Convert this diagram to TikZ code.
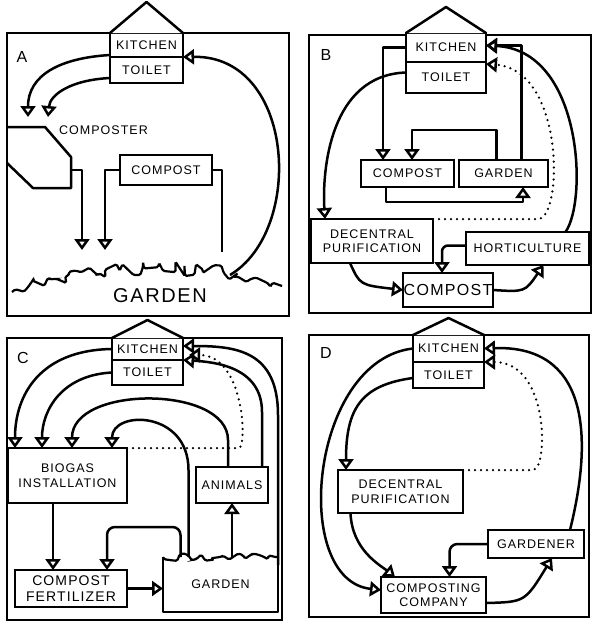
\documentclass[tikz,border=0pt]{standalone}
\usepackage{fontspec}
\setmainfont{Liberation Sans}[LetterSpace=8]
\usepackage{tikz}
\usetikzlibrary{arrows.meta, positioning, calc, decorations.pathmorphing}
\tikzstyle{room} = [rectangle, draw=black, line width=2.5pt, fill=white, inner sep=0pt, outer sep=0pt, align=center, font=\fontsize{12.5}{14.5}\selectfont]
\tikzstyle{tag} = [inner sep=0pt, font=\fontsize{16}{18}\selectfont]
\tikzstyle{arrow} = [line width=2.5pt, line join=round, -{Triangle[open, length=11pt, width=15pt]}]
\tikzstyle{dotarrow} = [arrow, dash pattern=on 0pt off 6pt, line cap=round]
\tikzstyle{wire} = [line width=2.5pt, line join=round]
\tikzstyle{panel} = [line width=2.5pt]
\tikzstyle{roof} = [line width=2.5pt, fill=white, line join=round]
\tikzstyle{grass} = [line width=2.2pt, decorate, decoration={random steps, segment length=5pt, amplitude=7pt}, rounded corners=1.5pt]

\begin{document}
\begin{tikzpicture}[x=1pt, y=-1pt]
\useasboundingbox[fill=white] (0,0) rectangle (596,630);
\pgfmathsetseed{7}

% A
\draw[panel] (7,33) rectangle (289,316);
\node (labA) [tag] at (22,57) {A};
\node (kitA) [room, minimum width=73pt, minimum height=24pt] at (146.5,45) {KITCHEN};
\node (toiA) [room, minimum width=73pt, minimum height=26pt, below=0pt of kitA] {TOILET};
\draw[roof] (kitA.north west) -- ([yshift=31pt]kitA.north) -- (kitA.north east);
\node (cmpA) [inner sep=0pt, font=\fontsize{12.5}{14.5}\selectfont] at (103.5,130) {COMPOSTER};
\node (compA) [room, minimum width=92pt, minimum height=30pt] at (166,170) {COMPOST};
\node (garA) [inner sep=0pt, font=\fontsize{20}{22}\selectfont] at (160,296) {GARDEN};
\coordinate (inA1) at (28,117);
\coordinate (inA2) at (48,117);
\coordinate (outA) at (71,170);
\coordinate (dropA1) at (82,250);
\coordinate (dropA2) at (105,250);
\coordinate (endA) at (222,252);
\coordinate (retA) at (230,275);
\draw[wire] (7,127) -- (45,127) -- (71,157) -- (71,188) -- (33,188) -- (7,163);
\draw[grass] (12,292) .. controls (100,264) and (200,260) .. (282,286);
\draw[arrow] ([yshift=2pt]kitA.south west) .. controls (60,58) and (28,75) .. (inA1);
\draw[arrow] ([yshift=-8pt]toiA.west) .. controls (70,80) and (50,95) .. (inA2);
\draw[arrow] (outA) -| (dropA1);
\draw[arrow] (compA.west) -| (dropA2);
\draw[wire] (compA.east) -| (endA);
\draw[arrow] (retA) .. controls (305,230) and (295,55) .. (kitA.south east);

% B
\draw[panel] (309,35) rectangle (591,313);
\node (labB) [tag] at (326,55) {B};
\node (kitB) [room, minimum width=80pt, minimum height=29pt] at (446,47.5) {KITCHEN};
\node (toiB) [room, minimum width=80pt, minimum height=31pt, below=0pt of kitB] {TOILET};
\draw[roof] (kitB.north west) -- ([yshift=26pt]kitB.north) -- (kitB.north east);
\node (compB) [room, minimum width=93pt, minimum height=27pt] at (407.5,173.5) {COMPOST};
\node (garB) [room, minimum width=89pt, minimum height=27pt] at (503.5,173.5) {GARDEN};
\node (decB) [room, minimum width=122pt, minimum height=44pt] at (372,241) {DECENTRAL\\PURIFICATION};
\node (horB) [room, minimum width=123pt, minimum height=33pt] at (527.5,248.5) {HORTICULTURE};
\node (bigB) [room, minimum width=90pt, minimum height=34pt, font=\fontsize{16}{18}\selectfont] at (448,290) {COMPOST};
\draw[arrow] (kitB.west) -| ([xshift=22pt]compB.north west);
\draw[arrow] ([xshift=-7pt]garB.north) -- ++(0,-30) -| ([xshift=4.5pt]compB.north);
\draw[arrow] ([xshift=-21.5pt]compB.south) -- ++(0,15) -| ([xshift=19.5pt]garB.south);
\draw[arrow] ([xshift=18pt]garB.north) |- ([yshift=2pt]kitB.east);
\draw[arrow] ([xshift=38pt]horB.north) .. controls (588,200) and (582,50) .. ([yshift=2pt]kitB.east);
\draw[dotarrow] (decB.north east) -- ++(105,0) .. controls +(25,0) and (565,70) .. ([yshift=-2pt]toiB.north east);
\draw[arrow] ([yshift=5pt]toiB.west) .. controls (330,75) and (322,170) .. ([xshift=14pt]decB.north west);
\draw[arrow] ([xshift=-22pt]decB.south) .. controls (360,285) .. (bigB.west);
\draw[arrow] (bigB.east) .. controls (525,292) .. ([xshift=16pt]horB.south);
\draw[arrow, rounded corners=6pt] ([yshift=3pt]horB.west) -| ([xshift=-6pt]bigB.north);

% C
\draw[panel] (7,338) rectangle (282,620);
\node (labC) [tag] at (23,358) {C};
\node (kitC) [room, minimum width=71pt, minimum height=22pt] at (147.5,349) {KITCHEN};
\node (toiC) [room, minimum width=71pt, minimum height=25pt, below=0pt of kitC] {TOILET};
\draw[roof] (kitC.north west) -- ([yshift=18pt]kitC.north) -- (kitC.north east);
\node (bioC) [room, minimum width=119pt, minimum height=55pt] at (67.5,475.5) {BIOGAS\\INSTALLATION};
\node (aniC) [room, minimum width=72pt, minimum height=36pt] at (232,485) {ANIMALS};
\node (cfC) [room, minimum width=112pt, minimum height=37pt, font=\fontsize{14}{16}\selectfont] at (71,588.5) {COMPOST\\FERTILIZER};
\node (garC) [minimum width=115pt, minimum height=55pt, inner sep=0pt, outer sep=0pt, text depth=-8pt, font=\fontsize{12.5}{14.5}\selectfont] at (220.5,584.5) {GARDEN};
\draw[wire] (garC.north west) -- (garC.south west) -- (garC.south east) -- (garC.north east);
\draw[grass, decoration={random steps, segment length=4pt, amplitude=4pt}] (garC.north west) -- (garC.north east);
\draw[arrow] (kitC.west) .. controls (40,350) and (15,395) .. ([xshift=7pt]bioC.north west);
\draw[arrow] (toiC.west) .. controls (62,375) and (42,410) .. ([xshift=34pt]bioC.north west);
\draw[arrow] ([xshift=-4pt]aniC.north) -- ++(0,-27) .. controls +(0,-55) and (72,385) .. ([xshift=64pt]bioC.north west);
\draw[arrow] ([xshift=-32pt]garC.north) -- ++(0,-87) .. controls +(0,-60) and (112,410) .. ([xshift=104pt]bioC.north west);
\draw[arrow] ([xshift=30pt]aniC.north) -- ++(0,-55) .. controls +(0,-45) and (215,362) .. (toiC.north east);
\draw[arrow] ([yshift=-8pt]garC.north east) -- ++(0,-150) .. controls +(0,-65) and (235,346) .. ([yshift=3pt]kitC.east);
\draw[dotarrow] (bioC.north east) -- ++(112,0) .. controls +(8,0) and (245,355) .. ([xshift=6pt,yshift=5pt]kitC.south east);
\draw[arrow] ([xshift=-14.5pt]bioC.south) -- ([xshift=-18pt]cfC.north);
\draw[arrow, rounded corners=8pt] ([xshift=-40pt]garC.north) -- ++(0,-30) -| ([xshift=36pt]cfC.north);
\draw[arrow] (cfC.east) -- (cfC.east -| garC.west);
\draw[arrow] (garC.north -| aniC.south) -- (aniC.south);

% D
\draw[panel] (309,335) rectangle (589,617);
\node (labD) [tag] at (326,353) {D};
\node (kitD) [room, minimum width=71pt, minimum height=27pt] at (448.5,348.5) {KITCHEN};
\node (toiD) [room, minimum width=71pt, minimum height=26pt, below=0pt of kitD] {TOILET};
\draw[roof] (kitD.north west) -- ([yshift=17pt]kitD.north) -- (kitD.north east);
\node (decD) [room, minimum width=125pt, minimum height=43pt] at (400.5,491.5) {DECENTRAL\\PURIFICATION};
\node (ccD) [room, minimum width=105pt, minimum height=36pt] at (433.5,595) {COMPOSTING\\COMPANY};
\node (gdD) [room, minimum width=96pt, minimum height=28pt] at (536,544) {GARDENER};
\draw[arrow] (kitD.west) .. controls (310,360) and (290,580) .. ([yshift=5pt]ccD.west);
\draw[arrow] ([yshift=-3pt]toiD.west) .. controls (360,385) and (346,410) .. ([xshift=8pt]decD.north west);
\draw[dotarrow] (decD.north east) -- ++(70,0) .. controls +(15,0) and (550,362) .. (toiD.north east);
\draw[arrow] ([xshift=-50pt]decD.south) .. controls (352,550) and (380,565) .. ([xshift=14pt]ccD.north west);
\draw[arrow, rounded corners=8pt] (gdD.west) -| ([xshift=16pt]ccD.north);
\draw[arrow] ([yshift=-8pt]ccD.east) .. controls (525,602) .. ([xshift=16pt]gdD.south);
\draw[arrow] ([xshift=34pt]gdD.north) .. controls (595,430) and (585,345) .. (kitD.east);
\end{tikzpicture}
\end{document}
